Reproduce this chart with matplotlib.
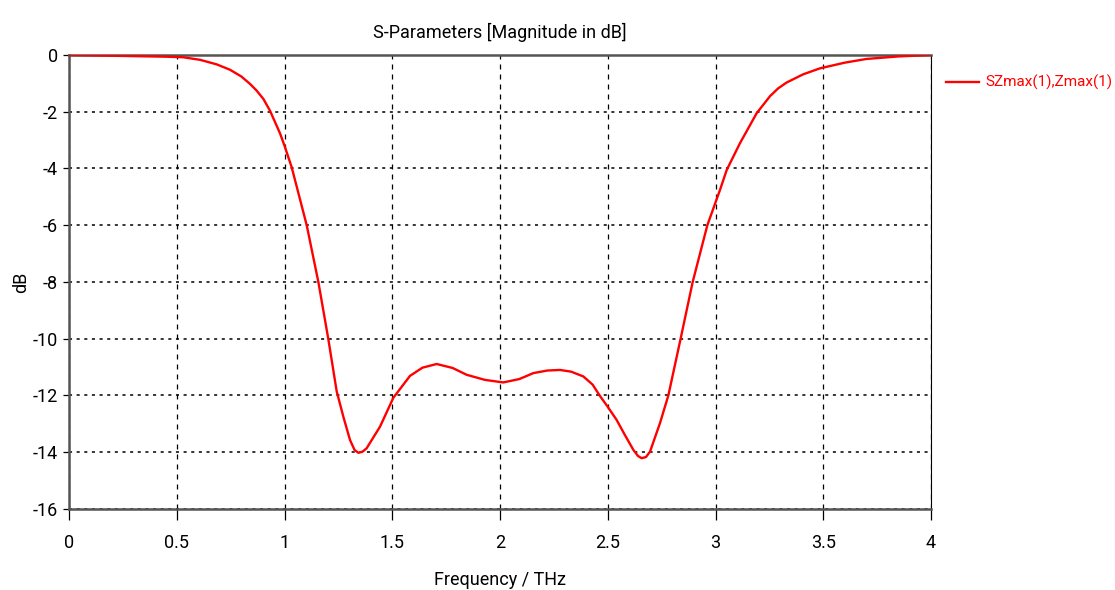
import numpy as np
import matplotlib.pyplot as plt

plt.rcParams['font.family'] = ['Roboto', 'DejaVu Sans']

# frequency (THz) and magnitude (dB)
freq = [0.0, 0.15, 0.3, 0.45, 0.53, 0.608, 0.685, 0.747, 0.8, 0.84, 0.87, 0.902,
        0.933, 0.979, 1.0, 1.033, 1.057, 1.103, 1.157, 1.203, 1.242, 1.273,
        1.304, 1.325, 1.343, 1.362, 1.381, 1.443, 1.505, 1.582, 1.64, 1.706,
        1.78, 1.845, 1.93, 2.015, 2.09, 2.155, 2.22, 2.278, 2.33, 2.387,
        2.43, 2.464, 2.5, 2.541, 2.58, 2.619, 2.64, 2.657, 2.677, 2.696, 2.742,
        2.781, 2.838, 2.894, 2.962, 3.021, 3.052, 3.114, 3.191, 3.253, 3.29,
        3.33, 3.407, 3.485, 3.6, 3.7, 3.85, 4.0]
s_db = [0.0, -0.02, -0.04, -0.06, -0.08, -0.17, -0.33, -0.52, -0.76, -1.02, -1.25, -1.55,
        -1.97, -2.76, -3.2, -3.95, -4.65, -6.0, -8.0, -10.0, -11.85, -12.75,
        -13.57, -13.92, -14.02, -13.98, -13.86, -13.1, -12.08, -11.31, -11.02, -10.89,
        -11.03, -11.27, -11.45, -11.54, -11.42, -11.21, -11.12, -11.1, -11.16, -11.33,
        -11.62, -12.02, -12.4, -12.86, -13.4, -13.92, -14.13, -14.21, -14.17, -13.98, -12.98,
        -12.0, -10.0, -8.0, -6.0, -4.75, -4.05, -3.1, -2.05, -1.45, -1.18,
        -0.97, -0.68, -0.47, -0.27, -0.14, -0.05, 0.0]

x_ticks = [0, 0.5, 1, 1.5, 2, 2.5, 3, 3.5, 4]
x_tick_labels = ['0', '0.5', '1', '1.5', '2', '2.5', '3', '3.5', '4']
y_ticks = [0, -2, -4, -6, -8, -10, -12, -14, -16]

fig = plt.figure(figsize=(11.15, 5.9), dpi=100)
ax = fig.add_axes([0.0619, 0.1373, 0.7731, 0.7695])

line, = ax.plot(freq, s_db, color='#ff0000', lw=1.7, label='SZmax(1),Zmax(1)',
                zorder=3, solid_joinstyle='round')

ax.set_xlim(0, 4)
ax.set_ylim(-16, 0)
ax.set_xticks(x_ticks)
ax.set_xticklabels(x_tick_labels)
ax.set_yticks(y_ticks)
ax.set_yticklabels([str(v) for v in y_ticks])

# vertical grid dashed, horizontal grid dotted
ax.xaxis.grid(True, color='black', linestyle=(0, (4, 4)), lw=0.9)
ax.yaxis.grid(True, color='black', linestyle=(0, (2, 3)), lw=1.1)

ax.tick_params(axis='x', direction='out', length=8, width=0.9, pad=10, labelsize=13)
ax.tick_params(axis='y', direction='out', length=4, width=0.9, pad=4, labelsize=13)

for side in ['left', 'bottom', 'top']:
    ax.spines[side].set_color('#555555')
    ax.spines[side].set_linewidth(1.8)
ax.spines['right'].set_color('black')
ax.spines['right'].set_linewidth(0.8)

ax.set_title('S-Parameters [Magnitude in dB]', fontsize=13, pad=12)
ax.set_xlabel('Frequency / THz', fontsize=13, labelpad=14)
ax.set_ylabel('dB', fontsize=13, labelpad=2)

fig.legend(handles=[line], loc='upper left', bbox_to_anchor=(0.848, 0.873),
           frameon=False, fontsize=11, labelcolor='#ff0000',
           borderpad=0, borderaxespad=0,
           handlelength=2.2, handletextpad=0.4)

fig.savefig('out.png', dpi=100)
